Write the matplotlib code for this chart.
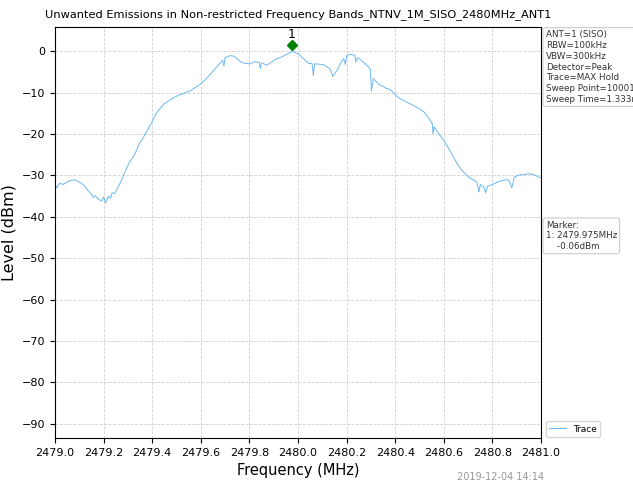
import matplotlib
matplotlib.use('Agg')
import matplotlib.pyplot as plt

# spectrum trace (MHz, dBm)
freq_mhz = [
    2479.000, 2479.006, 2479.012, 2479.020, 2479.034, 2479.050, 2479.065, 2479.082, 2479.100,
    2479.116, 2479.135, 2479.150, 2479.157, 2479.165, 2479.180, 2479.192, 2479.200,
    2479.208, 2479.220, 2479.228, 2479.235, 2479.245, 2479.255, 2479.270, 2479.283,
    2479.300, 2479.310, 2479.328, 2479.345, 2479.360, 2479.380, 2479.400, 2479.414,
    2479.430, 2479.448, 2479.470, 2479.490, 2479.510, 2479.530, 2479.560, 2479.580,
    2479.600, 2479.620, 2479.640, 2479.670, 2479.690, 2479.695, 2479.700, 2479.720, 2479.735, 2479.750,
    2479.765, 2479.780, 2479.800, 2479.820, 2479.840, 2479.845, 2479.850, 2479.860, 2479.870, 2479.880,
    2479.910, 2479.930, 2479.950, 2479.975, 2479.990, 2480.000, 2480.024, 2480.045,
    2480.058, 2480.063, 2480.068, 2480.078, 2480.106, 2480.132, 2480.143, 2480.160,
    2480.175, 2480.188, 2480.195, 2480.200, 2480.214, 2480.234, 2480.238, 2480.245, 2480.260, 2480.275,
    2480.290, 2480.298, 2480.302, 2480.310, 2480.325, 2480.340, 2480.350, 2480.360,
    2480.380, 2480.400, 2480.420, 2480.440, 2480.460, 2480.480, 2480.500, 2480.520,
    2480.540, 2480.552, 2480.556, 2480.560, 2480.580, 2480.600, 2480.615, 2480.630,
    2480.645, 2480.660, 2480.675, 2480.690, 2480.705, 2480.720, 2480.735, 2480.745,
    2480.750, 2480.765, 2480.772, 2480.780, 2480.800, 2480.830, 2480.860, 2480.870, 2480.880,
    2480.890, 2480.910, 2480.930, 2480.950, 2480.970, 2480.990, 2481.000,
]
level_dbm = [
    -31.8, -33.0, -32.5, -31.9, -32.2, -31.6, -31.2, -31.1, -31.6,
    -32.2, -33.6, -34.6, -35.3, -34.9, -35.8, -36.2, -35.2,
    -36.6, -35.0, -35.6, -34.2, -34.4, -33.4, -31.6, -29.8,
    -27.6, -26.5, -25.0, -22.5, -21.2, -19.1, -17.0, -15.2,
    -14.0, -12.8, -11.9, -11.2, -10.6, -10.2, -9.5, -8.7,
    -7.9, -6.8, -5.5, -3.5, -2.2, -3.6, -1.6, -1.1, -1.2, -1.9,
    -2.6, -2.9, -3.1, -2.6, -2.7, -4.2, -2.8, -3.1, -3.4, -3.1,
    -1.9, -1.5, -0.9, -0.06, -0.4, -0.6, -1.9, -3.0,
    -3.0, -5.9, -3.1, -3.1, -3.3, -4.3, -6.1, -4.7,
    -3.0, -1.8, -3.2, -1.1, -0.8, -1.0, -2.6, -1.6, -2.2, -3.0,
    -3.8, -4.5, -9.6, -6.6, -7.6, -8.3, -8.5, -8.9,
    -9.3, -10.5, -11.5, -12.1, -12.7, -13.3, -13.9, -14.8,
    -16.3, -17.5, -20.0, -18.3, -20.0, -21.6, -23.0, -24.5,
    -26.2, -27.7, -28.8, -29.7, -30.6, -31.0, -31.6, -34.0,
    -32.2, -32.8, -34.2, -32.6, -32.2, -31.4, -31.0, -31.4, -33.0,
    -30.4, -29.9, -29.8, -29.6, -29.8, -30.4, -30.5,
]

marker_freq = 2479.975
marker_level = -0.06
info_lines = ['ANT=1 (SISO)', 'RBW=100kHz', 'VBW=300kHz', 'Detector=Peak',
              'Trace=MAX Hold', 'Sweep Point=10001', 'Sweep Time=1.333ms']
x_ticks = [2479.0, 2479.2, 2479.4, 2479.6, 2479.8, 2480.0, 2480.2, 2480.4, 2480.6, 2480.8, 2481.0]
y_ticks = [0, -10, -20, -30, -40, -50, -60, -70, -80, -90]


def main():
    fig = plt.figure(figsize=(6.33, 4.88), dpi=100)
    ax = fig.add_axes([0.0869, 0.1025, 0.7678, 0.842])

    line, = ax.plot(freq_mhz, level_dbm, color='#6ab8f0', linewidth=0.7, label='Trace')
    # marker drawn slightly above the trace, as the analyser export does
    ax.plot([marker_freq], [marker_level + 1.5], marker='D', color='green', markersize=5, linestyle='none')
    ax.text(marker_freq, marker_level + 2.6, '1', ha='center', va='bottom', fontsize=9)

    ax.set_xlim(2479.0, 2481.0)
    ax.set_ylim(-93.4, 5.8)
    ax.set_xticks(x_ticks)
    ax.set_xticklabels(['%.1f' % t for t in x_ticks])
    ax.set_yticks(y_ticks)
    ax.tick_params(labelsize=8)
    ax.grid(True, linestyle='--', color='#d0d0d0', linewidth=0.6)
    ax.set_xlabel('Frequency (MHz)', fontsize=10.5)
    ax.set_ylabel('Level (dBm)', fontsize=11.5)
    ax.set_title('Unwanted Emissions in Non-restricted Frequency Bands_NTNV_1M_SISO_2480MHz_ANT1',
                 fontsize=8.2, pad=7)

    box = dict(boxstyle='round,pad=0.3', facecolor='white', edgecolor='#cccccc', linewidth=0.8)
    fig.text(0.862, 0.938, '\n'.join(info_lines), fontsize=6.3, color='#333333',
             va='top', ha='left', bbox=box, linespacing=1.25)
    fig.text(0.862, 0.548, 'Marker:\n1: %.3fMHz\n    %.2fdBm' % (marker_freq, marker_level),
             fontsize=6.3, color='#333333', va='top', ha='left', bbox=box, linespacing=1.25)
    fig.legend(handles=[line], loc='lower left', bbox_to_anchor=(0.855, 0.095),
               fontsize=6.5, frameon=True, edgecolor='#cccccc', handlelength=1.8)
    fig.text(0.86, 0.016, '2019-12-04 14:14', fontsize=7, color='#999999', ha='right')

    fig.savefig('out.png', dpi=100)


if __name__ == '__main__':
    main()
